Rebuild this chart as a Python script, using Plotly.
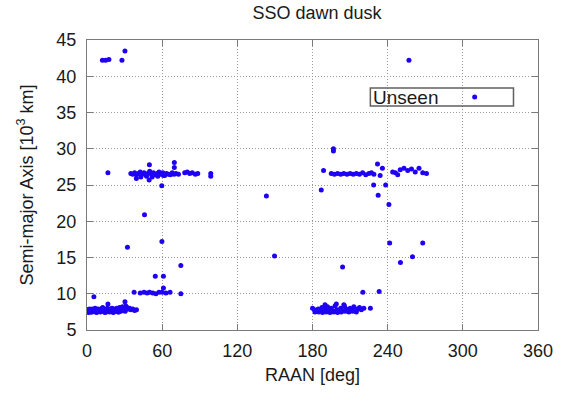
import plotly.graph_objects as go

# ---- data: RAAN [deg] and semi-major axis [10^3 km] ----
raan_top = [12.3, 14.9, 17.5, 27.9, 30.3, 257.0]
sma_top = [42.2, 42.2, 42.3, 42.2, 43.5, 42.2]

raan_low_left = [0.5, 1.2, 2.0, 2.8, 3.5, 4.3, 5.0, 5.8, 6.5, 7.2, 8.0, 8.8, 9.5, 10.3, 11.0,
                 11.8, 12.5, 13.3, 14.0, 14.8, 15.5, 16.3, 17.0, 17.8, 18.5, 19.3, 20.0, 20.8,
                 21.5, 22.3, 23.0, 23.8, 24.5, 25.3, 26.0, 26.8, 27.5, 28.3, 29.0, 29.8, 31.0,
                 32.0, 33.0, 34.0, 35.0, 36.5, 38.0, 39.5, 1.5, 4.0, 7.5, 10.8, 14.3, 18.0,
                 21.0, 24.8, 27.0, 30.5, 5.5, 16.7, 30.3]
sma_low_left = [7.8, 7.6, 7.9, 7.7, 7.5, 7.9, 7.7, 7.6, 8.0, 7.8, 7.5, 7.9, 7.7, 7.6, 7.9,
                7.8, 8.1, 7.6, 7.9, 7.7, 7.5, 8.0, 7.8, 7.6, 7.9, 7.7, 8.0, 7.5, 7.9, 7.7,
                7.6, 8.0, 7.8, 7.5, 8.1, 7.9, 7.7, 8.2, 8.0, 7.8, 8.3, 8.1, 7.9, 8.0, 7.8,
                7.9, 7.7, 7.8, 7.4, 7.5, 7.4, 7.5, 7.4, 7.5, 7.4, 7.5, 7.6, 7.6, 9.6, 8.6, 8.9]

raan_mid_left = [37.6, 42.5, 45.5, 48.0, 50.0, 52.5, 55.0, 57.5, 60.0, 63.0, 66.3, 74.9,
                 61.0, 54.5, 61.0, 59.8, 32.3, 74.9, 45.9]
sma_mid_left = [10.2, 10.1, 10.2, 10.1, 10.2, 10.1, 10.0, 10.2, 10.2, 10.1, 10.2, 10.0,
                10.8, 12.4, 12.4, 17.2, 16.4, 13.9, 20.9]

raan_up_left = [16.7, 35.0, 36.5, 38.0, 39.5, 41.0, 42.5, 44.0, 45.5, 47.0, 48.5, 50.0, 51.5,
                53.0, 54.5, 56.0, 57.5, 59.0, 60.5, 62.0, 63.5, 65.0, 66.5, 68.0, 69.5, 71.0,
                73.0, 78.0, 80.0, 82.0, 84.0, 86.5, 88.4, 98.8, 98.8, 49.8, 69.7, 69.7, 39.4,
                49.6, 59.7, 43.0, 47.5, 52.0, 56.5, 61.0]
sma_up_left = [26.7, 26.6, 26.5, 26.7, 26.4, 26.6, 26.8, 26.5, 26.7, 26.4, 26.6, 26.9, 26.5,
               26.7, 26.4, 26.6, 26.8, 26.5, 26.7, 26.3, 26.6, 26.5, 26.4, 26.7, 26.5, 26.6,
               26.5, 26.7, 26.8, 26.6, 26.7, 26.5, 26.6, 26.6, 26.2, 27.8, 28.1, 27.4, 25.9,
               25.7, 24.9, 26.1, 26.2, 26.1, 26.2, 26.3]

raan_gap = [143.2, 149.7]
sma_gap = [23.5, 15.2]

raan_low_right = [180.0, 181.5, 183.0, 184.5, 186.0, 187.5, 189.0, 190.5, 192.0, 193.5, 195.0,
                  196.5, 198.0, 199.5, 201.0, 202.5, 204.0, 205.5, 207.0, 208.5, 210.0, 211.5,
                  213.0, 214.5, 216.0, 217.5, 219.0, 221.0, 182.0, 185.0, 188.0, 191.0, 194.0,
                  197.0, 200.0, 203.0, 206.0, 209.0, 212.0, 215.0, 190.0, 199.0, 205.0,
                  226.2, 220.2, 233.2, 204.0]
sma_low_right = [8.0, 7.8, 7.6, 7.9, 7.7, 8.1, 7.6, 7.9, 8.2, 7.7, 8.0, 7.6, 8.3, 7.8, 7.6,
                 8.0, 7.7, 8.3, 7.9, 7.6, 8.0, 7.8, 8.2, 7.6, 7.9, 8.1, 7.8, 8.0, 7.5, 7.5,
                 7.4, 7.5, 7.4, 7.5, 7.4, 7.5, 7.6, 7.5, 7.6, 7.5, 8.5, 8.6, 8.5,
                 8.0, 10.2, 10.3, 13.7]

raan_up_right = [188.8, 195.0, 197.5, 200.0, 202.5, 205.0, 207.5, 210.0, 212.5, 215.0, 217.5,
                 220.0, 222.5, 225.0, 227.0, 229.0, 231.9, 235.8, 228.8, 238.4, 232.4, 187.0,
                 246.2, 250.0, 253.0, 256.0, 259.0, 262.0, 265.0, 268.0, 271.0, 196.7, 196.7,
                 241.0, 244.0, 248.0, 234.0]
sma_up_right = [27.0, 26.6, 26.5, 26.6, 26.5, 26.6, 26.5, 26.6, 26.5, 26.6, 26.5, 26.7,
                26.4, 26.6, 26.7, 26.5, 27.9, 27.3, 25.0, 25.0, 23.6, 24.3,
                26.7, 27.1, 27.3, 27.0, 27.2, 26.8, 27.3, 26.7, 26.6, 30.0, 29.7,
                22.3, 26.8, 26.4, 26.3]

raan_low_right_out = [241.6, 250.2, 259.8, 268.0]
sma_low_right_out = [17.0, 14.3, 15.1, 17.0]

raan = (raan_top + raan_low_left + raan_mid_left + raan_up_left + raan_gap +
        raan_low_right + raan_up_right + raan_low_right_out)
sma = (sma_top + sma_low_left + sma_mid_left + sma_up_left + sma_gap +
       sma_low_right + sma_up_right + sma_low_right_out)

x_ticks = [0, 60, 120, 180, 240, 300, 360]
y_ticks = [5, 10, 15, 20, 25, 30, 35, 40, 45]
legend_label = "Unseen"

W, H = 565, 394
L, R, T, B = 87, 18, 40, 64
PW, PH = W - L - R, H - T - B
FONT = "Liberation Sans, Arial, sans-serif"
TXT = "#1a1a1a"


def px(xp):
    return (xp - L) / PW


def py(yp):
    return (H - B - yp) / PH


fig = go.Figure()
fig.add_trace(go.Scatter(
    x=raan, y=sma, mode="markers", name="",
    marker=dict(color="#1e00f5", size=5, line=dict(width=0)),
    showlegend=True,
))

axis_common = dict(
    showgrid=True, gridcolor="#9a9a9a", griddash="1px,2px", gridwidth=1,
    showline=True, linecolor="#7a7a7a", linewidth=1, mirror="allticks",
    ticks="inside", ticklen=6, tickcolor="#7a7a7a",
    tickfont=dict(family=FONT, size=18, color=TXT),
    zeroline=False,
)

fig.update_layout(
    width=W, height=H,
    margin=dict(l=L, r=R, t=T, b=B, pad=0),
    paper_bgcolor="white", plot_bgcolor="white",
    title=dict(text="SSO dawn dusk", x=(L + PW / 2) / W, xanchor="center",
               y=1 - 13 / H, yanchor="middle", yref="container",
               font=dict(family=FONT, size=18, color=TXT)),
    xaxis=dict(range=[0, 360], tickvals=x_ticks, ticklabelstandoff=4,
               title=dict(text="RAAN [deg]", standoff=8,
                          font=dict(family=FONT, size=18, color=TXT)), **axis_common),
    yaxis=dict(range=[5, 45], tickvals=y_ticks, ticklabelstandoff=6,
               title=dict(text="Semi-major Axis [10<sup>3</sup> km]", standoff=18,
                          font=dict(family=FONT, size=18, color=TXT)),
               **axis_common),
    showlegend=True,
    legend=dict(
        x=px(462), y=py(97), xanchor="left", yanchor="middle",
        bgcolor="rgba(0,0,0,0)", borderwidth=0,
        font=dict(family=FONT, size=12, color=TXT),
        itemwidth=30,
    ),
    shapes=[dict(type="rect", xref="paper", yref="paper",
                 x0=px(376), x1=px(522), y0=py(106), y1=py(88),
                 line=dict(color="#606060", width=1.5), fillcolor="rgba(0,0,0,0)",
                 layer="above")],
    annotations=[dict(text=legend_label, xref="paper", yref="paper",
                      x=px(377), y=py(97.5), xanchor="left", yanchor="middle",
                      showarrow=False, font=dict(family=FONT, size=19, color=TXT))],
)

fig.write_html("out.html")
